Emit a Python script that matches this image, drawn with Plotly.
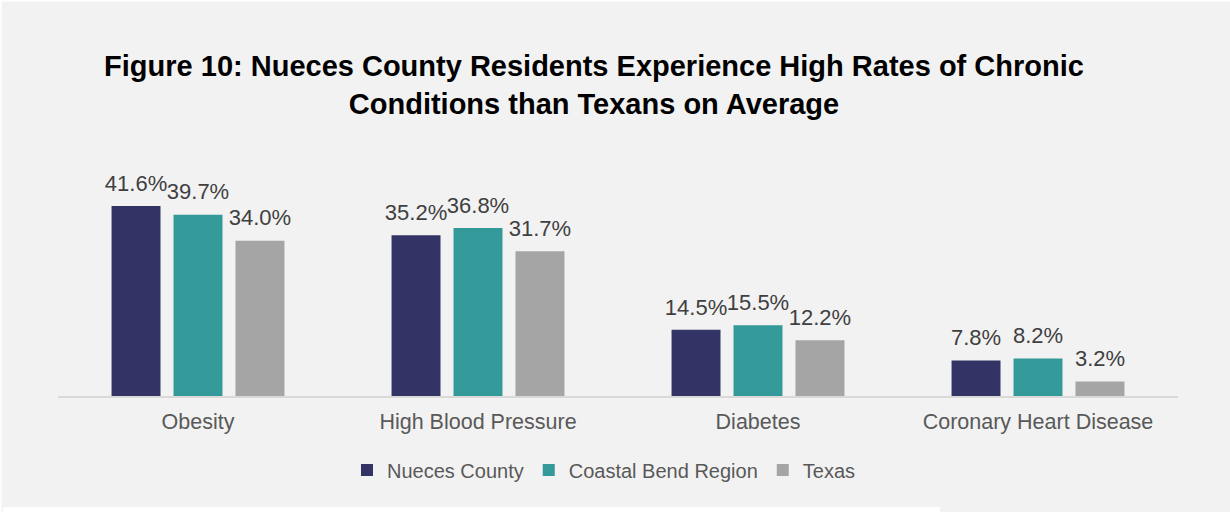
import plotly.graph_objects as go

conditions = ["Obesity", "High Blood Pressure", "Diabetes", "Coronary Heart Disease"]
nueces = [41.6, 35.2, 14.5, 7.8]
coastal_bend = [39.7, 36.8, 15.5, 8.2]
texas = [34.0, 31.7, 12.2, 3.2]

series = [
    ("Nueces County", nueces, "#333366"),
    ("Coastal Bend Region", coastal_bend, "#339999"),
    ("Texas", texas, "#A5A5A5"),
]

W, H = 1230, 512
font_family = "Liberation Sans, Arial, sans-serif"
GAP = 0.336

fig = go.Figure()
for i, (name, vals, color) in enumerate(series):
    fig.add_trace(go.Bar(
        name=name,
        x=conditions,
        y=vals,
        offsetgroup=str(i),
        marker=dict(color=color, line=dict(width=0)),
        hoverinfo="skip",
    ))
# value labels, grouped the same way as the bars
for i, (name, vals, color) in enumerate(series):
    fig.add_trace(go.Scatter(
        x=conditions,
        y=vals,
        offsetgroup=str(i),
        mode="markers+text",
        marker=dict(size=14, opacity=0),
        text=[f"{v:.1f}%" for v in vals],
        textposition="top center",
        textfont=dict(size=22, color="#404040", family=font_family),
        showlegend=False,
        cliponaxis=False,
        hoverinfo="skip",
    ))

# plot area: baseline at y=396px, 4.567 px per percentage point
top_m, bot_m = 150, 116
plot_h = H - top_m - bot_m
y_max = plot_h / 4.567
plot_w = 1178 - 58

def px_x(px):
    return (px - 58) / plot_w

def px_y(py):
    return (H - bot_m - py) / plot_h

fig.update_layout(
    width=W, height=H,
    barmode="group",
    bargap=GAP,
    bargroupgap=0.21,
    scattermode="group",
    scattergap=GAP,
    paper_bgcolor="#F2F2F2",
    plot_bgcolor="#F2F2F2",
    margin=dict(l=58, r=W - 1178, t=top_m, b=bot_m),
    font=dict(family=font_family, color="#595959"),
    title=dict(
        text="<b>Figure 10: Nueces County Residents Experience High Rates of Chronic<br>Conditions than Texans on Average</b>",
        x=594 / W, xanchor="center",
        y=1 - 76 / H, yanchor="top",
        font=dict(size=29, color="#000000", family=font_family),
    ),
    xaxis=dict(
        showline=True, linecolor="#D9D9D9", linewidth=1.5,
        ticks="", tickfont=dict(size=21.5, color="#595959"),
        ticklabelstandoff=5,
        showgrid=False,
    ),
    yaxis=dict(
        range=[0, y_max], visible=False, showgrid=False, zeroline=False,
    ),
    legend=dict(
        orientation="h", x=0.4875, xanchor="center",
        yref="container", y=1 - 470 / H, yanchor="middle",
        font=dict(size=20, color="#595959"),
        bgcolor="rgba(0,0,0,0)",
    ),
    shapes=[
        # thin white frame edges and bottom strip
        dict(type="rect", xref="paper", yref="paper", x0=px_x(0), x1=px_x(1.5),
             y0=px_y(H), y1=px_y(0), line=dict(width=0), fillcolor="white", layer="above"),
        dict(type="rect", xref="paper", yref="paper", x0=px_x(0), x1=px_x(W),
             y0=px_y(1.5), y1=px_y(0), line=dict(width=0), fillcolor="white", layer="above"),
        dict(type="rect", xref="paper", yref="paper", x0=px_x(3), x1=px_x(940),
             y0=px_y(H), y1=px_y(507), line=dict(width=0), fillcolor="white", layer="above"),
    ],
)

fig.write_html("out.html")
